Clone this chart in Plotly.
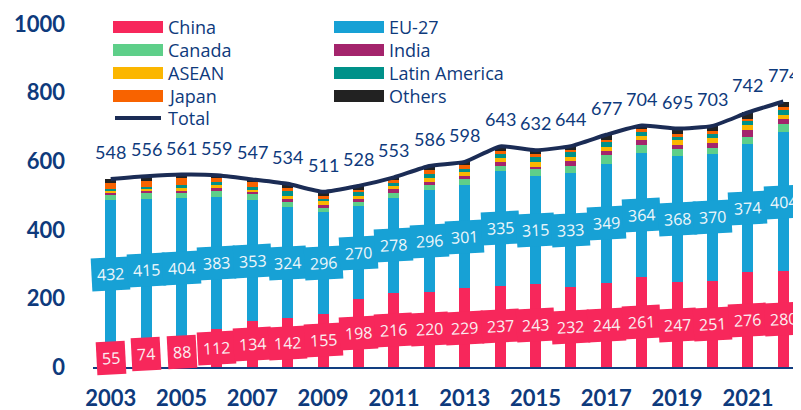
import plotly.graph_objects as go

years = list(range(2003, 2023))
china = [55, 74, 88, 112, 134, 142, 155, 198, 216, 220, 229, 237, 243, 232, 244, 261, 247, 251, 276, 280]
eu27 = [432, 415, 404, 383, 353, 324, 296, 270, 278, 296, 301, 335, 315, 333, 349, 364, 368, 370, 374, 404]
canada = [17, 19, 16, 19, 18, 15, 14, 13, 14, 16, 17, 15, 18, 20, 25, 21, 20, 18, 20, 24]
india = [4, 4, 6, 9, 6, 9, 7, 10, 11, 8, 11, 11, 8, 15, 12, 15, 13, 13, 20, 15]
asean = [6, 6, 9, 9, 6, 8, 11, 8, 9, 10, 10, 10, 13, 11, 12, 13, 13, 17, 15, 13]
latam = [6, 7, 9, 7, 9, 14, 8, 10, 9, 12, 10, 14, 14, 15, 14, 11, 9, 10, 12, 13]
japan = [17, 17, 18, 11, 13, 10, 9, 8, 8, 13, 10, 9, 9, 6, 6, 8, 8, 10, 7, 10]
others = [11, 14, 11, 9, 8, 12, 11, 11, 8, 11, 10, 12, 12, 12, 15, 11, 17, 14, 18, 15]
total = [548, 556, 561, 559, 547, 534, 511, 528, 553, 586, 598, 643, 632, 644, 677, 704, 695, 703, 742, 774]

x_tick_years = years[::2]
y_ticks = [0, 200, 400, 600, 800, 1000]

series_names = ["China", "EU-27", "Canada", "India", "ASEAN", "Latin America", "Japan", "Others"]
series_values = [china, eu27, canada, india, asean, latam, japan, others]
series_colors = ["#f7275b", "#17a1d5", "#5ecf89", "#a4246c", "#fbb600", "#009189", "#f86300", "#222222"]
total_color = "#1b2c55"
navy = "#0e3a7c"

FONT = "Lato"
LEG_FONT = "Open Sans"

# the page body has an 8px margin: work in reference pixels and shift by OFF
OFF = 8
W, H = 801 - OFF, 410 - OFF

fig = go.Figure()
for name, vals, col in zip(series_names, series_values, series_colors):
    fig.add_trace(go.Bar(x=years, y=vals, name=name, marker=dict(color=col, line=dict(width=0)),
                         showlegend=False, hoverinfo="y+name"))

fig.add_trace(go.Scatter(x=years, y=total, name="Total", mode="lines",
                         line=dict(color=total_color, width=4, shape="spline", smoothing=0.5),
                         showlegend=False))

annotations = []
for i, yr in enumerate(years):
    annotations.append(dict(x=yr, y=china[i] / 2, xref="x", yref="y", text=str(china[i]),
                            showarrow=False, bgcolor=series_colors[0], borderpad=5, textangle=-3,
                            font=dict(family="Open Sans", size=16, color="#fbeef1")))
    annotations.append(dict(x=yr, y=china[i] + eu27[i] / 2, xref="x", yref="y", text=str(eu27[i]),
                            showarrow=False, bgcolor=series_colors[1], borderpad=5, textangle=-3,
                            font=dict(family="Open Sans", size=16, color="#eef7fb")))
    annotations.append(dict(x=yr, y=total[i], xref="x", yref="y", text=str(total[i]), yshift=27,
                            showarrow=False, font=dict(family=FONT, size=18, color=navy)))

# plot area in reference pixels
L, R, T, B = 93, 801, 24, 367


def px_x(p):
    return (p - L) / (R - L)


def px_y(p):
    return (B - p) / (B - T)


shapes = []
col_x = [113, 334]
row_y = [27, 50, 73, 96]
for k, (name, col) in enumerate(zip(series_names, series_colors)):
    cx = col_x[k % 2]
    ry = row_y[k // 2]
    shapes.append(dict(type="rect", xref="paper", yref="paper", x0=px_x(cx), x1=px_x(cx + 50),
                       y0=px_y(ry + 6), y1=px_y(ry - 6), fillcolor=col, line=dict(width=0)))
    annotations.append(dict(xref="paper", yref="paper", x=px_x(cx + 53), y=px_y(ry), text=name,
                            xanchor="left", yanchor="middle", showarrow=False,
                            font=dict(family=LEG_FONT, size=18, color=navy)))
shapes.append(dict(type="line", xref="paper", yref="paper", x0=px_x(115), x1=px_x(161),
                   y0=px_y(118), y1=px_y(118), line=dict(color=total_color, width=4)))
annotations.append(dict(xref="paper", yref="paper", x=px_x(166), y=px_y(118), text="Total",
                        xanchor="left", yanchor="middle", showarrow=False,
                        font=dict(family=LEG_FONT, size=18, color=navy)))

fig.update_layout(
    width=W, height=H,
    margin=dict(l=L - OFF, r=801 - R, t=T - OFF, b=410 - B, autoexpand=False),
    barmode="stack", bargap=0.69,
    plot_bgcolor="white", paper_bgcolor="white",
    showlegend=False,
    annotations=annotations, shapes=shapes,
    font=dict(family=FONT, color=navy),
    xaxis=dict(range=[2002.5, 2022.5], tickvals=x_tick_years, ticktext=[str(v) for v in x_tick_years],
               showgrid=False, zeroline=False, showline=True, linecolor="#123d80", linewidth=2,
               ticks="", ticklabelstandoff=11, automargin=False,
               tickfont=dict(family=FONT, size=22, color=navy, weight="bold")),
    yaxis=dict(range=[0, 1000], tickvals=y_ticks, showgrid=False, zeroline=False, showline=False,
               ticks="", ticklabelstandoff=27, automargin=False,
               tickfont=dict(family=FONT, size=22, color=navy, weight="bold")),
)

fig.write_html("out.html")
